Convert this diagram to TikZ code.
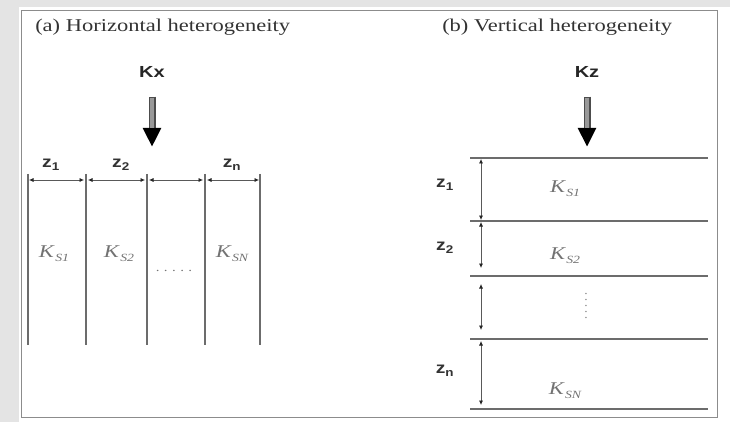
\documentclass[tikz,border=0pt]{standalone}
\usepackage{fontspec}
\setmainfont{Liberation Serif}
\setsansfont{Liberation Sans}
\usepackage{xcolor}
\usetikzlibrary{arrows.meta}

\definecolor{bggray}{HTML}{E4E4E4}
\definecolor{framegray}{HTML}{8C8C8C}
\definecolor{wallgray}{HTML}{6C6C6C}

\newcommand{\ksub}[1]{K\kern1pt\raisebox{-4pt}{\fontsize{11}{12}\selectfont #1}}

\begin{document}
\begin{tikzpicture}[
    x=1pt, y=-1pt,
    ttl/.style={font=\fontsize{18}{20}\selectfont, text=black!80, inner sep=0pt,
                xscale=1.25, anchor=west},
    kin/.style={font=\sffamily\bfseries\fontsize{16}{18}\selectfont, text=black!85,
                inner sep=0pt, xscale=1.25},
    zlab/.style={font=\sffamily\bfseries\fontsize{16}{18}\selectfont, text=black!80,
                 inner sep=0pt, xscale=1.2},
    perm/.style={font=\itshape\fontsize{18}{20}\selectfont, text=black!55,
                 inner sep=0pt, xscale=1.25},
    dots/.style={font=\fontsize{12}{14}\selectfont, text=black!55, inner sep=0pt},
    wall/.style={draw=wallgray, line width=1.8pt},
    dim/.style={draw=black!65, line width=0.7pt,
                {Latex[length=4.5pt,width=4pt,black!85]}-{Latex[length=4.5pt,width=4pt,black!85]}},
    flow/.style={draw=black!70, line width=7pt,
                 -{Triangle[length=19pt,width=17pt,black]}},
    flowcore/.style={draw=black!40, line width=3.5pt, shorten >=19pt}
]
    % background and frame
    \fill[bggray] (0,0) rectangle (730,422);
    \fill[white] (19,7) rectangle (730,422);
    \draw[framegray, line width=0.9pt] (21,10) rectangle (717,417);

    % (a) horizontal heterogeneity
    \node[ttl] (ta) at (35,27) {(a) Horizontal heterogeneity};
    \node[kin] (kx) at (152,72) {Kx};
    \coordinate (kxtip) at (152,147);
    \draw[flow] ([yshift=-19pt]kx.south) -- (kxtip);
    \draw[flowcore] ([yshift=-20pt]kx.south) -- (kxtip);

    \coordinate (d1) at (28,180);
    \coordinate (d2) at (86,180);
    \coordinate (d3) at (147,180);
    \coordinate (d4) at (205,180);
    \coordinate (d5) at (260,180);
    \coordinate (b1) at (28,345);
    \coordinate (b2) at (86,345);
    \coordinate (b3) at (147,345);
    \coordinate (b4) at (205,345);
    \coordinate (b5) at (260,345);

    \draw[wall] ([yshift=6pt]d1) -- (b1);
    \draw[wall] ([yshift=6pt]d2) -- (b2);
    \draw[wall] ([yshift=6pt]d3) -- (b3);
    \draw[wall] ([yshift=6pt]d4) -- (b4);
    \draw[wall] ([yshift=6pt]d5) -- (b5);

    \draw[dim] ([xshift=1pt]d1) -- ([xshift=-2pt]d2);
    \draw[dim] ([xshift=2pt]d2) -- ([xshift=-2pt]d3);
    \draw[dim] ([xshift=2pt]d3) -- ([xshift=-2pt]d4);
    \draw[dim] ([xshift=2pt]d4) -- ([xshift=-1pt]d5);

    \node[zlab] (za1) at (51,165) {z\textsubscript{1}};
    \node[zlab] (za2) at (121,165) {z\textsubscript{2}};
    \node[zlab] (zan) at (232,165) {z\textsubscript{n}};

    \node[perm] (ka1) at (54,254) {\ksub{S1}};
    \node[perm] (ka2) at (119,254) {\ksub{S2}};
    \node[perm] (kan) at (232,254) {\ksub{SN}};
    \node[dots, xscale=1.25] (hd) at (174,271) {.\kern3.5pt.\kern3.5pt.\kern3.5pt.\kern3.5pt.};

    % (b) vertical heterogeneity
    \node[ttl] (tb) at (442,27) {(b) Vertical heterogeneity};
    \node[kin] (kz) at (587,72) {Kz};
    \coordinate (kztip) at (587,147);
    \draw[flow] ([yshift=-19pt]kz.south) -- (kztip);
    \draw[flowcore] ([yshift=-20pt]kz.south) -- (kztip);

    \coordinate (l1) at (470,158);
    \coordinate (l2) at (470,221);
    \coordinate (l3) at (470,276);
    \coordinate (l4) at (470,339);
    \coordinate (l5) at (470,409);
    \coordinate (r1) at (708,158);
    \coordinate (r2) at (708,221);
    \coordinate (r3) at (708,276);
    \coordinate (r4) at (708,339);
    \coordinate (r5) at (708,409);

    \draw[wall] (l1) -- (r1);
    \draw[wall] (l2) -- (r2);
    \draw[wall] (l3) -- (r3);
    \draw[wall] (l4) -- (r4);
    \draw[wall] (l5) -- (r5);

    \coordinate (e1) at (481,158);
    \coordinate (e2) at (481,221);
    \coordinate (e3) at (481,276);
    \coordinate (e4) at (481,339);
    \coordinate (e5) at (481,409);

    \draw[dim] ([yshift=-1pt]e1) -- ([yshift=1pt]e2);
    \draw[dim] ([yshift=-1pt]e2) -- ([yshift=8pt]e3);
    \draw[dim] ([yshift=-8pt]e3) -- ([yshift=9pt]e4);
    \draw[dim] ([yshift=-2pt]e4) -- ([yshift=4pt]e5);

    \node[zlab] (zb1) at (445,185) {z\textsubscript{1}};
    \node[zlab] (zb2) at (445,248) {z\textsubscript{2}};
    \node[zlab] (zbn) at (445,371) {z\textsubscript{n}};

    \node[perm] (kb1) at (565,189) {\ksub{S1}};
    \node[perm] (kb2) at (565,256) {\ksub{S2}};
    \node[perm] (kbn) at (565,391) {\ksub{SN}};
    \node[dots, rotate=90] (vd) at (586,306) {.\kern3pt.\kern3pt.\kern3pt.\kern3pt.};
\end{tikzpicture}
\end{document}
